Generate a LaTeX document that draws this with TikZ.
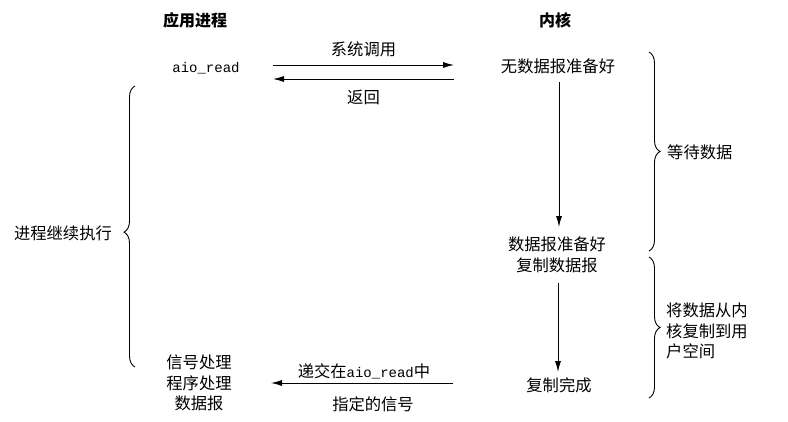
\documentclass[tikz,border=0pt]{standalone}
\usepackage{fontspec}
\setmainfont{Noto Sans CJK SC}
\newfontfamily\codefont{Liberation Mono}
\usetikzlibrary{arrows.meta,decorations.pathreplacing}
\begin{document}
\begin{tikzpicture}[x=1pt,y=-1pt,
  lbl/.style={inner sep=0pt,font=\fontsize{16.3}{20.5}\selectfont},
  hdr/.style={inner sep=0pt,font=\fontsize{16}{20}\selectfont\bfseries},
  code/.style={inner sep=0pt,font=\fontsize{14}{18}\selectfont\codefont},
  arr/.style={line width=0.9pt,-{Latex[length=11pt,width=6pt]}},
  brc/.style={line width=0.9pt,decorate,decoration={brace,amplitude=11pt}}]
\useasboundingbox (0,0) rectangle (788,421);
\node[hdr] (happ) at (195,20) {应用进程};
\node[hdr] (hker) at (555,20) {内核};
\node[code] (aio) at (206,68) {aio\_read};
\node[lbl] (nodata) at (558,66) {无数据报准备好};
\node[lbl, align=center] (ready) at (557,255) {数据报准备好\\复制数据报};
\node[lbl] (done) at (559,385) {复制完成};
\node[lbl, align=center] (sig) at (199,383) {信号处理\\程序处理\\数据报};
% horizontal arrows
\coordinate (a1l) at (273,65); \coordinate (a1r) at (454,65);
\coordinate (a2l) at (273,79); \coordinate (a2r) at (454,79);
\coordinate (a3l) at (271,383); \coordinate (a3r) at (453,383);
\draw[arr] (a1l) -- (a1r) node[lbl,midway,above=8pt] (sysc) {系统调用};
\draw[arr] (a2r) -- (a2l) node[lbl,midway,below=11pt] (ret) {返回};
\draw[arr] (a3r) -- (a3l);
\node[lbl] (deliv) at (364,371) {递交在{\codefont\fontsize{14}{18}\selectfont aio\_read}中};
\node[lbl] (spec) at (373,404) {指定的信号};
% vertical arrows
\coordinate (v1t) at (559,82); \coordinate (v1b) at (559,227);
\coordinate (v2t) at (558,283); \coordinate (v2b) at (558,372);
\draw[arr] (v1t) -- (v1b);
\draw[arr] (v2t) -- (v2b);
% braces
\coordinate (b1t) at (649,52); \coordinate (b1b) at (649,251);
\coordinate (b2t) at (649,257); \coordinate (b2b) at (649,398);
\coordinate (b3b) at (135,367); \coordinate (b3t) at (135,86);
\draw[brc] (b1t) -- (b1b);
\draw[brc] (b2t) -- (b2b);
\draw[brc,decoration={brace,amplitude=11pt,aspect=0.48}] (b3b) -- (b3t);
\node[lbl,anchor=west] (wait) at (667,152) {等待数据};
\node[lbl,anchor=west,align=left] (copy) at (666,331) {将数据从内\\核复制到用\\户空间};
\node[lbl] (cont) at (63,233) {进程继续执行};
\end{tikzpicture}
\end{document}
